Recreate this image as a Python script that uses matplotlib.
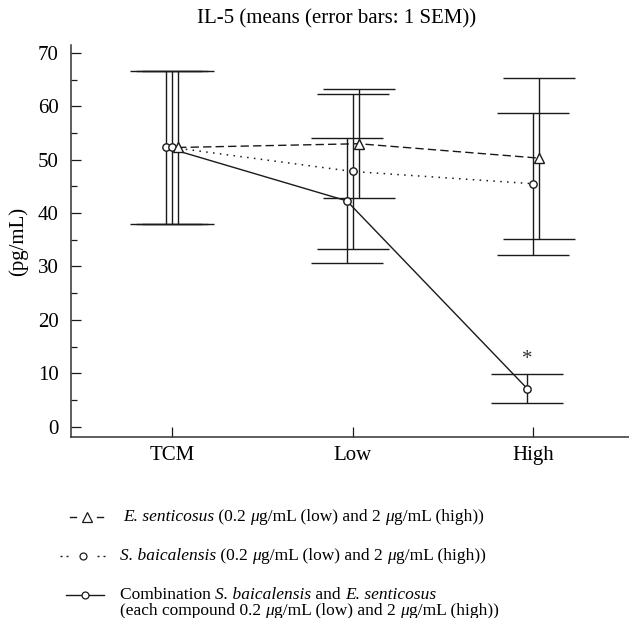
import numpy as np
import matplotlib
matplotlib.use("Agg")
import matplotlib.pyplot as plt
from matplotlib.lines import Line2D

plt.rcParams['font.family'] = ['Liberation Serif', 'DejaVu Serif']

# data
groups = ["TCM", "Low", "High"]
es_mean = [52.3, 53.0, 50.3]      # E. senticosus
es_sem = [14.4, 10.2, 15.1]
sb_mean = [52.3, 47.8, 45.5]      # S. baicalensis
sb_sem = [14.4, 14.5, 13.3]
cb_mean = [52.3, 42.3, 7.1]       # combination
cb_sem = [14.4, 11.7, 2.7]

x = np.arange(len(groups))
off = 0.033

fig = plt.figure(figsize=(6.29, 6.18), dpi=100)
ax = fig.add_axes([71 / 629, 0.2924, 1 - 71 / 629, 0.6348])

ink = '#1a1a1a'
ebkw = dict(ecolor=ink, elinewidth=1.0, capsize=26, capthick=1.0, zorder=2)

ax.errorbar(x - off, cb_mean, yerr=cb_sem, fmt='none', **ebkw)
ax.errorbar(x, sb_mean, yerr=sb_sem, fmt='none', **ebkw)
ax.errorbar(x + off, es_mean, yerr=es_sem, fmt='none', **ebkw)

ax.plot(x - off, cb_mean, '-', color=ink, lw=1.0, marker='o', ms=5.3,
        mfc='white', mec=ink, mew=1.0, zorder=3)
ax.plot(x, sb_mean, ':', color=ink, lw=1.1, dashes=(1, 3.5), marker='o', ms=5.3,
        mfc='white', mec=ink, mew=1.0, zorder=3)
ax.plot(x + off, es_mean, '--', color=ink, lw=1.0, dashes=(6, 3), marker='^', ms=6.5,
        mfc='white', mec=ink, mew=1.0, zorder=3)

ax.text(2 - off, 12.6, "*", ha='center', va='center', fontsize=15, color='#333333')

ax.set_xlim(-0.56, 2.53)
ax.set_ylim(-2, 71.5)
ax.set_xticks(x)
ax.set_xticklabels(groups, fontsize=15)
ax.set_yticks(np.arange(0, 71, 10))
ax.set_yticks(np.arange(5, 70, 10), minor=True)
ax.tick_params(axis='y', labelsize=15, pad=9)
ax.tick_params(axis='x', pad=6)
ax.tick_params(which='major', direction='in', length=7, width=0.9, color=ink)
ax.tick_params(which='minor', direction='in', length=4, width=0.9, color=ink)
ax.spines['top'].set_visible(False)
ax.spines['right'].set_visible(False)
for s in ['left', 'bottom']:
    ax.spines[s].set_color('#333333')
    ax.spines[s].set_linewidth(1.1)
ax.set_ylabel("(pg/mL)", fontsize=15, labelpad=7)

fig.text(0.535, 0.97, "IL-5 (means (error bars: 1 SEM))", ha='center', va='center',
         fontsize=15)

# legend drawn by hand so that names can be italic
fig.canvas.draw()
renderer = fig.canvas.get_renderer()


def rich_line(x0, y0, pieces, size=12.5):
    xp = x0
    for txt, style in pieces:
        t = fig.text(xp / 629, 1 - y0 / 618, txt, fontsize=size, style=style,
                     ha='left', va='center')
        bb = t.get_window_extent(renderer=renderer)
        xp += bb.width


def seg(x0, x1, yr, **kw):
    fig.add_artist(Line2D([x0 / 629, x1 / 629], [1 - yr / 618] * 2,
                          transform=fig.transFigure, color=ink, lw=1.0, **kw))


def mark(xc, yr, m, ms):
    fig.add_artist(Line2D([xc / 629], [1 - yr / 618], transform=fig.transFigure,
                          marker=m, ms=ms, mfc='white', mec=ink, mew=0.9, ls='none'))


tail = [(" (0.2 ", 'normal'), ("\u03bc", 'italic'), ("g/mL (low) and 2 ", 'normal'),
        ("\u03bc", 'italic'), ("g/mL (high))", 'normal')]

rows = [517, 556, 595]
# E. senticosus key: -^-
seg(70, 76, rows[0])
seg(97, 103, rows[0])
mark(87, rows[0], '^', 7)
# S. baicalensis key: ..o..
for xd in [61, 67, 98, 104]:
    seg(xd - 0.6, xd + 0.6, rows[1], solid_capstyle='butt')
mark(83, rows[1], 'o', 5)
# combination key: -o-
seg(66, 104, rows[2])
mark(85, rows[2], 'o', 5)

rich_line(123, rows[0], [("E. senticosus", 'italic')] + tail)
rich_line(120, rows[1], [("S. baicalensis", 'italic')] + tail)
rich_line(120, rows[2], [("Combination ", 'normal'), ("S. baicalensis", 'italic'),
                         (" and ", 'normal'), ("E. senticosus", 'italic')])
rich_line(120, 611, [("(each compound 0.2 ", 'normal')] + tail[1:])

fig.savefig("out.png", dpi=100)
